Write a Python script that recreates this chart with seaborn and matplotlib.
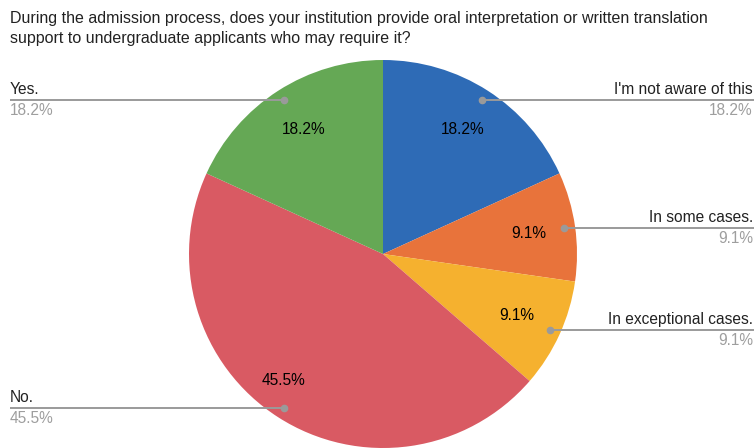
import numpy as np
import matplotlib
matplotlib.use("Agg")
import matplotlib.pyplot as plt
import seaborn as sns

title = ("During the admission process, does your institution provide oral interpretation or written translation\n"
         "support to undergraduate applicants who may require it?")
categories = ["I'm not aware of this", "In some cases.", "In exceptional cases.", "No.", "Yes."]
shares = [18.2, 9.1, 9.1, 45.5, 18.2]
slice_colors = ["#2e6bb6", "#e8733b", "#f5b12f", "#d95a63", "#65a855"]
label_side = ["right", "right", "right", "left", "left"]

sns.set_theme(style="white")
plt.rcParams["font.family"] = ["Liberation Sans", "DejaVu Sans"]
palette = sns.color_palette(slice_colors)

W, H = 755, 448
FS = 11.2
fig = plt.figure(figsize=(W / 100, H / 100), dpi=100)
ax = fig.add_axes([0, 0, 1, 1])

cx, cy, R = 383, 448 - 254, 194
wedges, _, autotexts = ax.pie(
    shares, colors=palette, startangle=90, counterclock=False,
    center=(cx, cy), radius=R, autopct="%.1f%%", pctdistance=0.76,
    textprops=dict(fontsize=FS, color="black"),
    wedgeprops=dict(linewidth=0), frame=True,
)
ax.set_xlim(0, W)
ax.set_ylim(0, H)
ax.set_aspect("equal")
ax.axis("off")

# the large slice carries its label a little further round and out
big = int(np.argmax(shares))
w = wedges[big]
ang = np.deg2rad((w.theta1 + w.theta2) / 2 - 5.5)
autotexts[big].set_position((cx + 0.83 * R * np.cos(ang), cy + 0.83 * R * np.sin(ang)))

# leader lines from each wedge to the figure edge, with name above and share below
for w, name, val, side in zip(wedges, categories, shares, label_side):
    mid = np.deg2rad((w.theta1 + w.theta2) / 2)
    px = cx + 0.945 * R * np.cos(mid)
    py = cy + 0.945 * R * np.sin(mid)
    if side == "right":
        x_end, ha, tx = W - 1, "right", W - 2
    else:
        x_end, ha, tx = 10, "left", 10
    ax.plot([px, x_end], [py, py], color="#9a9a9a", lw=1.4, solid_capstyle="butt", zorder=3)
    ax.plot([px], [py], "o", color="#9a9a9a", ms=4.5, zorder=4)
    ax.text(tx, py + 3, name, ha=ha, va="bottom", fontsize=FS, color="#222222")
    ax.text(tx, py - 3, f"{val:.1f}%", ha=ha, va="top", fontsize=FS, color="#9e9e9e")

fig.text(10 / W, 1 - 11 / H, title, ha="left", va="top", fontsize=11.5,
         color="#222222", linespacing=1.45)

fig.savefig("out.png", dpi=100)
